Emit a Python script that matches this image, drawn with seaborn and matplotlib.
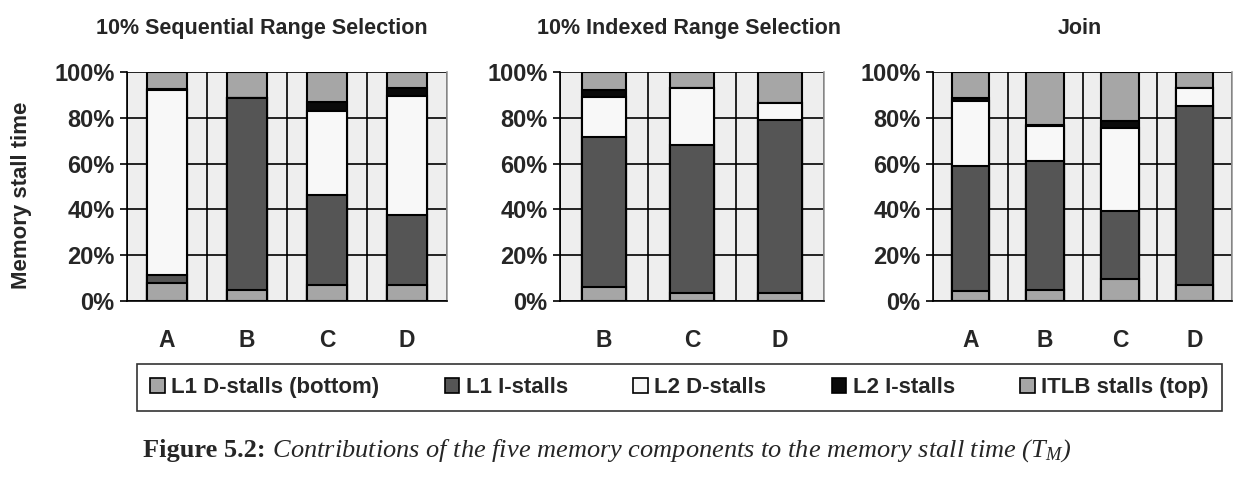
import numpy as np
import seaborn as sns
import matplotlib.pyplot as plt
from matplotlib.patches import Patch

sns.set_theme(style="white")
plt.rcParams["font.family"] = ["Liberation Sans", "DejaVu Sans"]
plt.rcParams["font.weight"] = "bold"
plt.rcParams["mathtext.fontset"] = "custom"
plt.rcParams["mathtext.it"] = "Liberation Serif:italic:normal"
plt.rcParams["mathtext.rm"] = "Liberation Serif:normal"

# stall-time breakdown (%)
titles = ["10% Sequential Range Selection", "10% Indexed Range Selection", "Join"]
systems = [["A", "B", "C", "D"], ["B", "C", "D"], ["A", "B", "C", "D"]]
l1d = [[8, 5, 7, 7], [6, 3.5, 3.5], [4.5, 5, 9.5, 7]]
l1i = [[3.5, 83.5, 39.5, 30.5], [65.5, 64.5, 75.5], [54.5, 56, 30, 78]]
l2d = [[80.5, 0, 36.5, 52], [17.5, 25, 7.5], [28.5, 15.5, 36, 8]]
l2i = [[0.5, 0, 4, 3.5], [3, 0, 0], [1, 0.5, 3, 0]]
itlb = [[7.5, 11.5, 13, 7], [8, 7, 13.5], [11.5, 23, 21.5, 7]]

labels = ["L1 D-stalls (bottom)", "L1 I-stalls", "L2 D-stalls", "L2 I-stalls", "ITLB stalls (top)"]
colors = ["#a6a6a6", "#555555", "#f8f8f8", "#0a0a0a", "#a6a6a6"]

W, H = 1244, 479
fig = plt.figure(figsize=(W / 100, H / 100), dpi=100)

boxes = [(127, 320), (560, 264), (933, 299)]
title_x = [0.42, 0.49, 0.49]
top_px, bot_px = 72, 301

for i, (left, width) in enumerate(boxes):
    ax = fig.add_axes([left / W, 1 - bot_px / H, width / W, (bot_px - top_px) / H])
    stack = np.cumsum([l1d[i], l1i[i], l2d[i], l2i[i], itlb[i]], axis=0)
    # draw the cumulative totals from the top down so each layer covers the next
    for k in reversed(range(5)):
        sns.barplot(x=systems[i], y=stack[k], color=colors[k], saturation=1,
                    width=0.5, edgecolor="black", linewidth=1.5, errorbar=None,
                    ax=ax, zorder=3)
    n = len(systems[i])
    ax.set_facecolor("#eeeeee")
    ax.set_xlim(-0.5, n - 0.5)
    ax.set_ylim(0, 100)
    ax.set_xlabel("")
    ax.set_ylabel("")
    ax.set_yticks(range(0, 101, 20))
    ax.set_yticklabels([f"{v}%" for v in range(0, 101, 20)], fontsize=17, fontweight="bold")
    ax.set_xticks(range(n))
    ax.set_xticklabels(systems[i], fontsize=16.5, fontweight="bold")
    ax.set_xticks(np.arange(-0.5, n, 1), minor=True)
    ax.tick_params(axis="x", which="major", length=0, pad=20)
    ax.tick_params(axis="x", which="minor", length=7, width=1.2, direction="out", color="black")
    ax.tick_params(axis="y", length=5, width=1.2, direction="out", color="black", pad=4, left=True)
    ax.set_axisbelow(True)
    ax.grid(True, which="major", axis="y", color="black", linewidth=1.2)
    ax.grid(True, which="minor", axis="x", color="black", linewidth=1.2)
    ax.grid(False, which="major", axis="x")
    for s in ["left", "bottom"]:
        ax.spines[s].set_color("black")
        ax.spines[s].set_linewidth(1.2)
    ax.spines["top"].set_visible(False)
    ax.spines["right"].set_color("#999999")
    ax.spines["right"].set_linewidth(1.2)
    ax.set_title(titles[i], x=title_x[i], fontsize=15.5, fontweight="bold", pad=27)

fig.text(22 / W, 1 - 195 / H, "Memory stall time", rotation=90, ha="center", va="center",
         fontsize=16, fontweight="bold")

handles = [Patch(facecolor=c, edgecolor="black", linewidth=1.2) for c in colors]
leg = fig.legend(handles, labels, loc="center", ncol=5, mode="expand",
                 bbox_to_anchor=(137 / W, 1 - 412 / H, 1085 / W, 49 / H),
                 frameon=True, fancybox=False, edgecolor="black", fontsize=16,
                 handlelength=0.65, handleheight=0.65, handletextpad=0.3,
                 borderpad=0.6, borderaxespad=0)
leg.get_frame().set_linewidth(1.2)
for t in leg.get_texts():
    t.set_fontweight("bold")

cap = fig.text(143 / W, 1 - 451 / H, "Figure 5.2:", family="Liberation Serif",
               fontweight="bold", fontsize=19, va="center", ha="left")
fig.add_artist(
    plt.Annotation(" Contributions of the five memory components to the memory stall time ($T_M$)",
                   xy=(1, 0.5), xycoords=cap, va="center", ha="left",
                   family="Liberation Serif", style="italic", fontweight="normal", fontsize=19))

fig.savefig("out.png", dpi=100)
